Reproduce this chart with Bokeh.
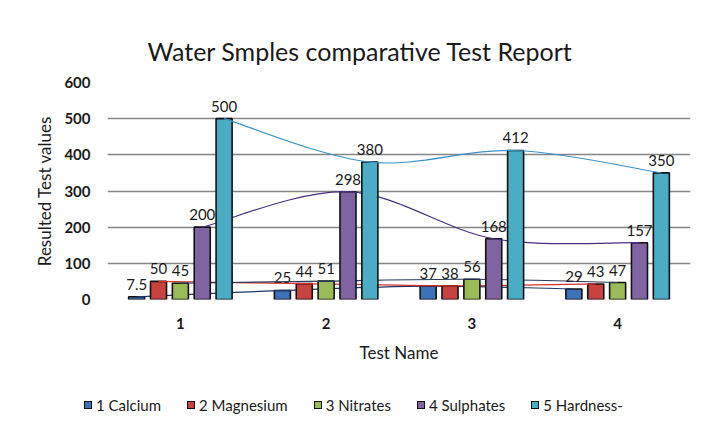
import numpy as np
from bokeh.plotting import figure
from bokeh.layouts import column
from bokeh.models import Range1d, FixedTicker, Title, ColumnDataSource, Div
from bokeh.core.properties import value
from bokeh.embed import file_html
from bokeh.resources import INLINE

# ---- data ----
tests = ["1", "2", "3", "4"]
series_names = ["1 Calcium", "2 Magnesium", "3 Nitrates", "4 Sulphates", "5 Hardness-"]
calcium = [7.5, 25, 37, 29]
magnesium = [50, 44, 38, 43]
nitrates = [45, 51, 56, 47]
sulphates = [200, 298, 168, 157]
hardness = [500, 380, 412, 350]
y_ticks = [0, 100, 200, 300, 400, 500, 600]

series_values = [calcium, magnesium, nitrates, sulphates, hardness]
bar_colors = ["#3d72b8", "#c8423f", "#9bbb59", "#8064a2", "#4bacc6"]
line_colors = ["#1f3768", "#d8312c", "#2b3b5a", "#4a2f80", "#3a93c8"]
offsets = [-0.30, -0.15, 0.0, 0.15, 0.30]
bar_w = 0.11
FONT = "Lato"

p = figure(width=697, height=380, output_backend="svg", toolbar_location=None,
           x_range=Range1d(0.5, 4.5), y_range=Range1d(0, 600),
           min_border_left=107, min_border_right=7, min_border_top=82, min_border_bottom=81)
p.outline_line_color = None
p.background_fill_color = "white"
p.border_fill_color = "white"

base_x = np.arange(1, len(tests) + 1)
for name, vals, col, lc, off in zip(series_names, series_values, bar_colors, line_colors, offsets):
    xs = base_x + off
    src = ColumnDataSource(dict(x=xs, top=vals, lab=[f"{v:g}" for v in vals]))
    p.vbar(x="x", top="top", width=bar_w, source=src, fill_color=col,
           line_color="#111111", line_width=1.6)
    p.text(x="x", y="top", text="lab", source=src, text_align="center",
           text_baseline="bottom", y_offset=-7, text_font=value(FONT),
           text_font_size="15px", text_color="#1a1a1a")
    # smoothed line through the bar tops (Catmull-Rom -> Bezier)
    P = list(zip(xs, vals))
    n = len(P)
    x0s, y0s, x1s, y1s, cx0, cy0, cx1, cy1 = [], [], [], [], [], [], [], []
    for i in range(n - 1):
        pm = P[i - 1] if i > 0 else P[i]
        pa, pb = P[i], P[i + 1]
        pn = P[i + 2] if i + 2 < n else P[i + 1]
        x0s.append(pa[0]); y0s.append(pa[1]); x1s.append(pb[0]); y1s.append(pb[1])
        cx0.append(pa[0] + (pb[0] - pm[0]) / 6); cy0.append(pa[1] + (pb[1] - pm[1]) / 6)
        cx1.append(pb[0] - (pn[0] - pa[0]) / 6); cy1.append(pb[1] - (pn[1] - pa[1]) / 6)
    p.bezier(x0=x0s, y0=y0s, x1=x1s, y1=y1s, cx0=cx0, cy0=cy0, cx1=cx1, cy1=cy1,
             line_color=lc, line_width=1.2)

# axes
p.xaxis.ticker = FixedTicker(ticks=list(base_x))
p.xaxis.major_label_overrides = {int(i): t for i, t in zip(base_x, tests)}
p.yaxis.ticker = FixedTicker(ticks=y_ticks)
for ax in (p.xaxis[0], p.yaxis[0]):
    ax.axis_line_color = None
    ax.major_tick_line_color = None
    ax.minor_tick_line_color = None
    ax.major_label_text_font = FONT
    ax.major_label_text_font_style = "bold"
    ax.major_label_text_font_size = "15px"
    ax.major_label_text_color = "#1a1a1a"
    ax.axis_label_text_font = FONT
    ax.axis_label_text_font_style = "normal"
    ax.axis_label_text_font_size = "17px"
    ax.axis_label_text_color = "#1a1a1a"
p.xaxis.axis_label = "Test Name"
p.yaxis.axis_label = "Resulted Test values"
p.xaxis.major_label_standoff = 12
p.xaxis.axis_label_standoff = 10
p.yaxis.major_label_standoff = 11
p.yaxis.axis_label_standoff = 6
p.xgrid.grid_line_color = None
p.ygrid.grid_line_color = "#858585"
p.ygrid.grid_line_width = 1.5

# title
title = Title(text="Water Smples comparative Test Report", align="left", offset=40,
              text_font=FONT, text_font_size="25px", text_font_style="normal",
              text_color="#1a1a1a", standoff=33)
p.add_layout(title, "above")

# legend row below the chart
entries = "".join(
    f'<span style="display:inline-block;width:8px;height:8px;background:{c};'
    f'border:1.5px solid #111;margin-right:4px;vertical-align:middle"></span>'
    f'<span style="margin-right:26px;vertical-align:middle">{nm}</span>'
    for nm, c in zip(series_names, bar_colors))
legend_div = Div(text=f'<div style="padding-left:84px;padding-top:14px;white-space:nowrap;'
                      f'font-family:{FONT};font-size:15px;color:#1a1a1a;line-height:18px">'
                      f'{entries}</div>',
                 width=697, height=42, margin=(0, 0, 0, 0))

layout = column(p, legend_div)
open("out.html", "w").write(file_html(layout, INLINE))
